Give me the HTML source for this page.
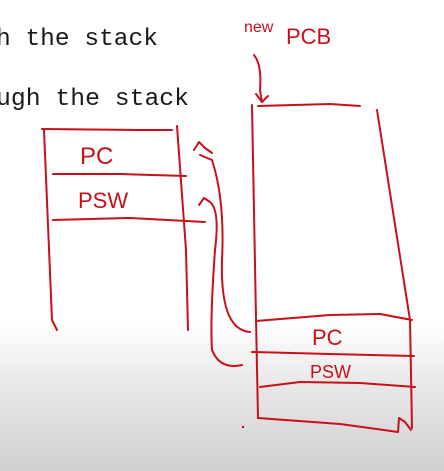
<!DOCTYPE html>
<html><head><meta charset="utf-8"><style>
html,body{margin:0;padding:0;width:444px;height:471px;overflow:hidden}
body{background:linear-gradient(to bottom,#fff 0px,#fff 322px,#e6e6e6 390px,#d0d0d0 471px)}
svg{position:absolute;left:0;top:0}
.t{font-family:"Liberation Mono",monospace;font-size:24px;fill:#1a1a1a}
.h{font-family:"Liberation Sans",sans-serif;fill:#c8101a}
</style></head><body>
<svg width="444" height="471" viewBox="0 0 444 471">
<text class="t" x="-4" y="45" textLength="162" lengthAdjust="spacingAndGlyphs">h the stack</text>
<text class="t" x="-4" y="105" textLength="193" lengthAdjust="spacingAndGlyphs">ugh the stack</text>
<g fill="none" stroke="#c8101a" stroke-width="2" stroke-linecap="round" stroke-linejoin="round">
<g>
<path d="M44 130 L52 320 L57 330"/>
<path d="M42 129 L140 130 L172 130"/>
<path d="M177 126 L186 250 L188 330"/>
<path d="M53 174 L120 174 L186 176"/>
<path d="M53 220 L130 218 L205 222"/>
</g>
<g>
<path d="M194 150 L199 142 L205 148 L212 153"/>
<path d="M200 155 L212 160 Q225 200 222 260 Q220 330 250 332"/>
<path d="M199 205 L204 198 L210 202 Q220 210 215 250 Q210 320 212 350 Q220 370 242 365"/>
<path d="M254 55 Q262 65 260 90 L262 102"/>
<path d="M256 94 L262 102 L268 96"/>
</g>
<g>
<path d="M252 105 L256 318 L258 418"/>
<path d="M258 106 L330 104 L360 106"/>
<path d="M377 110 L410 320 L412 428"/>
<path d="M256 321 L330 315 L380 314 L412 320"/>
<path d="M252 352 L330 354 L414 356"/>
<path d="M260 387 L300 382 L360 383 L415 387"/>
<path d="M258 418 L340 424 L398 432 L399 418 L405 422 L411 430"/>
</g>
</g>
<circle cx="243" cy="427" r="1.2" fill="#c8101a"/>
<text class="h" x="244" y="32" font-size="16">new</text>
<text class="h" x="286" y="44" font-size="22">PCB</text>
<text class="h" x="80" y="164" font-size="24">PC</text>
<text class="h" x="78" y="208" font-size="22">PSW</text>
<text class="h" x="312" y="345" font-size="22">PC</text>
<text class="h" x="310" y="378" font-size="18">PSW</text>
</svg>
</body></html>
